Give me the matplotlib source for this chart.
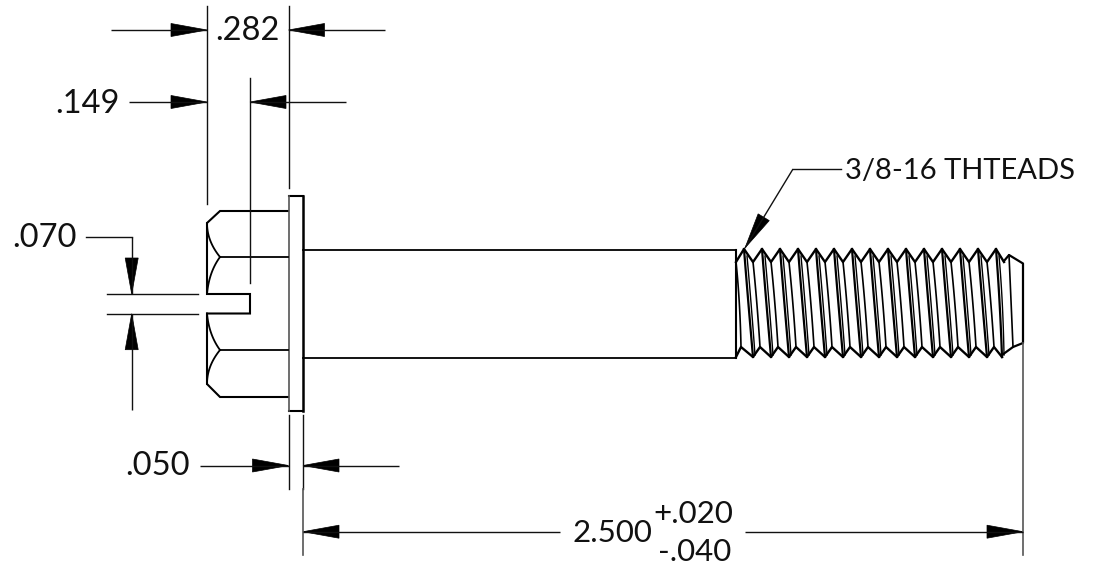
import numpy as np
import matplotlib
matplotlib.use('Agg')
import matplotlib.pyplot as plt

W = 1097
H = 568
INK = '#000000'
THIN = '#111111'
GREY = '#555555'

# bolt outline
head_x = [288, 220, 207, 207, 250, 250, 207, 207, 220, 288]
head_y = [211, 211, 223, 294, 294, 313.5, 313.5, 384, 397, 397]
flange_x = [288.5, 303, 303, 288.5, 288.5]
flange_y = [196, 196, 411, 411, 196]
hex_lines_y = [257, 350]
shank_y = [249.5, 358]
shank_x = [303, 736]

# thread
crest_top = [744, 762, 780, 798, 816, 834, 852, 870, 888, 906, 924, 942, 960, 978, 996]
root_top = [753, 771, 789, 807, 825, 843, 861, 879, 897, 915, 933, 951, 969, 987]
crest_bot = [753, 771, 789, 807, 825, 843, 861, 879, 897, 915, 933, 951, 969, 987]
root_bot = [741, 760, 778, 796, 814, 832, 850, 868, 886, 904, 922, 940, 958, 976, 994]
crest_y = (249, 357)
root_y = (262, 347)
tip_x = [1004, 1009, 1023, 1023, 1013, 1002]
tip_y = [261, 255, 263.5, 343, 347, 355]

# dimension lines: x0, y0, x1, y1
ext_lines = [
    (207, 6, 207, 204), (288.5, 6, 288.5, 188), (250, 78, 250, 283),
    (107, 293.7, 198, 293.7), (107, 313.7, 198, 313.7),
    (288.5, 415, 288.5, 489), (303, 415, 303, 489),
]
grey_lines = [(303, 489, 303, 555), (1023, 343, 1023, 555)]
# line start -> arrow tip
arrows = [
    (111, 30, 207, 30), (385, 30, 288.5, 30),
    (129, 102, 207, 102), (346, 102, 250, 102),
    (131.7, 237, 131.7, 294), (131.7, 410, 131.7, 313.7),
    (200, 465.5, 288.5, 465.5), (399, 465.5, 303, 465.5),
    (560, 531.7, 303, 531.7), (745, 531.7, 1023, 531.7),
    (793, 169, 745, 248),
]
extra_lines = [(86, 237, 131.7, 237), (793, 169, 841, 169)]

labels = [
    ('.282', 247.5, 31, 23.5),
    ('.149', 87, 104, 23.5),
    ('.070', 45, 238, 23.5),
    ('.050', 158, 466, 23.5),
    ('3/8-16 THTEADS', 960, 171, 21),
    ('2.500', 612, 533, 22.5),
    ('+.020', 693, 514, 22.5),
    ('-.040', 695, 552, 22.5),
]


def arrow(ax, x0, y0, x1, y1, length=36, half=6.5):
    d = np.array([x1 - x0, y1 - y0], float)
    d /= np.hypot(*d)
    n = np.array([-d[1], d[0]])
    tip = np.array([x1, y1], float)
    base = tip - d * length
    a = base + n * half
    b = base - n * half
    ax.plot([x0, x1], [y0, y1], color=THIN, lw=1.0, solid_capstyle='butt')
    ax.fill([tip[0], a[0], b[0]], [tip[1], a[1], b[1]], color=INK, lw=0.5)


def curve(ax, p0, p1, p2, lw=1.3):
    t = np.linspace(0, 1, 30)
    x = (1 - t) ** 2 * p0[0] + 2 * t * (1 - t) * p1[0] + t ** 2 * p2[0]
    y = (1 - t) ** 2 * p0[1] + 2 * t * (1 - t) * p1[1] + t ** 2 * p2[1]
    ax.plot(x, y, color=INK, lw=lw)


plt.rcParams['font.family'] = ['Lato', 'DejaVu Sans']
fig = plt.figure(figsize=(W / 100, H / 100), dpi=100)
ax = fig.add_axes([0, 0, 1, 1])
ax.set_xlim(0, W)
ax.set_ylim(H, 0)
ax.axis('off')

# head
ax.plot(head_x, head_y, color=INK, lw=1.5, solid_joinstyle='miter')
ax.plot(flange_x[1:3], flange_y[1:3], color=INK, lw=1.8)
ax.plot(flange_x[:2], flange_y[:2], color=INK, lw=1.5)
ax.plot(flange_x[2:4], flange_y[2:4], color=INK, lw=1.5)
ax.plot(flange_x[3:], flange_y[3:], color=GREY, lw=1.2)
for y in hex_lines_y:
    ax.plot([220, 288], [y, y], color=INK, lw=1.3)
curve(ax, (207, 223), (207, 241), (220, 257))
curve(ax, (220, 257), (209, 272), (207, 294))
curve(ax, (207, 384), (207, 366), (220, 350))
curve(ax, (220, 350), (209, 335), (207, 313.5))

# shank
for y in shank_y:
    ax.plot(shank_x, [y, y], color=INK, lw=1.3)
ax.plot([736, 736], shank_y, color=INK, lw=1.5)

# thread outline
top_x = [736]
top_y = [root_y[0]]
for c, r in zip(crest_top, root_top + [1004]):
    top_x += [c, r]
    top_y += [crest_y[0], root_y[0]]
bot_x = [736]
bot_y = [crest_y[1]]
for r, c in zip(root_bot, crest_bot + [1002]):
    bot_x += [r, c]
    bot_y += [root_y[1], crest_y[1]]
ax.plot(top_x, top_y, color=INK, lw=1.7)
ax.plot(bot_x, bot_y, color=INK, lw=1.7)
ax.plot(tip_x, tip_y, color=INK, lw=1.6)
curve(ax, (1009, 255), (1011, 300), (1013, 347), lw=1.2)

# thread helix lines
for c, b in zip(crest_top, crest_bot + [1002]):
    curve(ax, (c, crest_y[0]), (c + 4, 300), (b, crest_y[1]), lw=1.6)
    curve(ax, (c + 3, 256), (c + 7, 300), (b + 2, crest_y[1] - 2), lw=1.0)
for r, b in zip([736] + root_top, root_bot):
    curve(ax, (r, root_y[0]), (r + 4, 300), (b, root_y[1]), lw=1.2)

# dimensions
for x0, y0, x1, y1 in ext_lines + extra_lines:
    ax.plot([x0, x1], [y0, y1], color=THIN, lw=1.0)
for x0, y0, x1, y1 in grey_lines:
    ax.plot([x0, x1], [y0, y1], color=GREY, lw=1.2)
for a in arrows:
    arrow(ax, *a)

for s, x, y, size in labels:
    ax.text(x, y, s, fontsize=size, ha='center', va='center', color='#111111')

fig.savefig('out.png', dpi=100, facecolor='white')
